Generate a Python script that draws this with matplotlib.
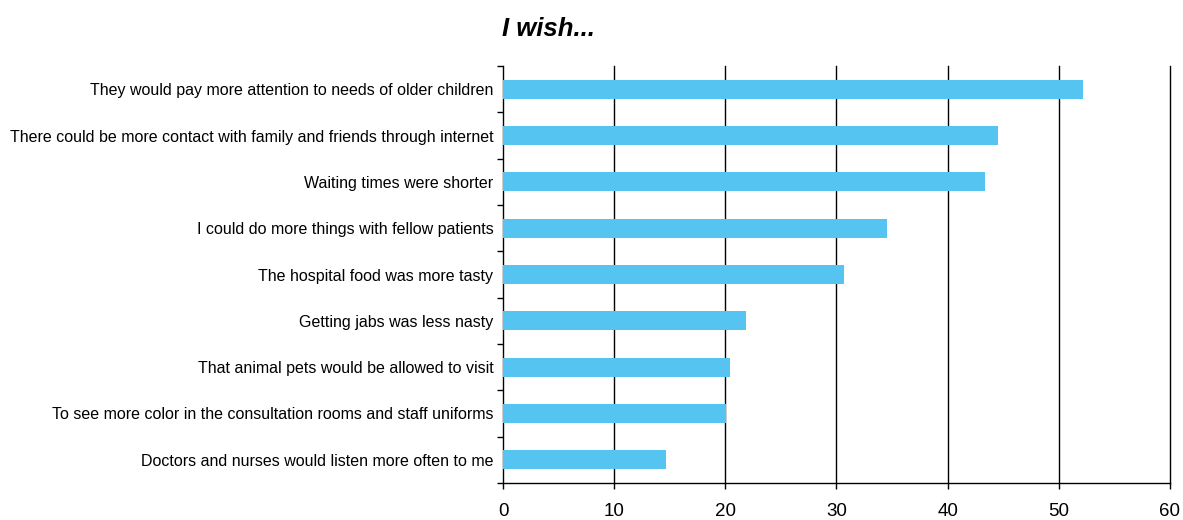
import matplotlib.pyplot as plt
import numpy as np

plt.rcParams['font.family'] = ['Liberation Sans', 'DejaVu Sans']

# data, top to bottom as in the picture
labels = [
    'They would pay more attention to needs of older children',
    'There could be more contact with family and friends through internet',
    'Waiting times were shorter',
    'I could do more things with fellow patients',
    'The hospital food was more tasty',
    'Getting jabs was less nasty',
    'That animal pets would be allowed to visit',
    'To see more color in the consultation rooms and staff uniforms',
    'Doctors and nurses would listen more often to me',
]
values = [52.2, 44.5, 43.4, 34.5, 30.7, 21.9, 20.4, 20.1, 14.7]
xticks = [0, 10, 20, 30, 40, 50, 60]

fig = plt.figure(figsize=(11.83, 5.2), dpi=100)
ax = fig.add_axes([0.4252, 0.0712, 0.5638, 0.8018])

n = len(labels)
y = np.arange(n)[::-1]
ax.barh(y, values, height=0.41, color='#55C4F0', zorder=3)

ax.set_xlim(0, 60)
ax.set_ylim(-0.5, n - 0.5)
ax.set_xticks(xticks)
ax.set_xticklabels([str(v) for v in xticks], fontsize=13.5)
ax.tick_params(axis='x', direction='out', length=4.5, width=1, color='black', pad=10)

# category labels at the centres, ticks at the boundaries
ax.set_yticks(y)
ax.set_yticklabels(labels, fontsize=11.5)
ax.tick_params(axis='y', which='major', length=0, pad=7)
ax.set_yticks(np.arange(n + 1) - 0.5, minor=True)
ax.tick_params(axis='y', which='minor', direction='out', length=4.5, width=1, color='black')

for v in xticks[1:]:
    ax.axvline(v, color='black', linewidth=1, zorder=2, clip_on=False)

ax.spines['top'].set_visible(False)
ax.spines['right'].set_visible(False)
ax.spines['left'].set_linewidth(1)
ax.spines['bottom'].set_linewidth(1)

fig.text(0.4635, 0.945, 'I wish...', fontsize=18.5, fontweight='bold', fontstyle='italic',
         ha='center', va='center')

plt.savefig('out.png', dpi=100)
